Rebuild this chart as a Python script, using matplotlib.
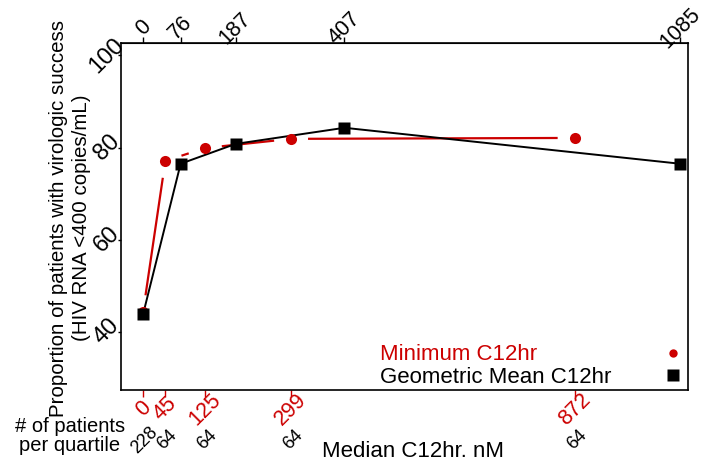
import numpy as np
import matplotlib
matplotlib.use("Agg")
import matplotlib.pyplot as plt

plt.rcParams['font.family'] = ['Liberation Sans', 'DejaVu Sans']

# Data
min_x = [0, 45, 125, 299, 872]
min_y = [44.3, 77.1, 79.9, 81.9, 82.1]
gm_x = [0, 76, 187, 407, 1085]
gm_y = [43.8, 76.5, 80.8, 84.3, 76.5]
n_patients = ["228", "64", "64", "64", "64"]
yticks = [40, 60, 80, 100]

RED = "#cc0000"
PX = 72 / 100  # points per pixel

fig = plt.figure(figsize=(7.04, 4.61), dpi=100)
ax = fig.add_axes([121/704, 1-390/461, (688-121)/704, (390-43)/461])
ax.set_xlim(-44.5, 1101)
ax.set_ylim(27.4, 102.7)

def type_b(ax, xs, ys, color, gap_px, lw):
    T = ax.transData
    inv = T.inverted()
    pts = T.transform(np.column_stack([xs, ys]))
    for p, q in zip(pts[:-1], pts[1:]):
        d = q - p
        L = np.hypot(*d)
        if L <= 2*gap_px:
            continue
        u = d / L
        a = inv.transform(p + u*gap_px)
        b = inv.transform(q - u*gap_px)
        ax.plot([a[0], b[0]], [a[1], b[1]], color=color, lw=lw, solid_capstyle='butt')

type_b(ax, min_x, min_y, RED, 17, 1.6)
ax.plot(min_x, min_y, 'o', color=RED, ms=8, mec='none', zorder=3)
type_b(ax, gm_x, gm_y, 'black', 5, 1.4)
ax.plot(gm_x, gm_y, 's', color='black', ms=8, mec='none', zorder=4)

for s in ax.spines.values():
    s.set_linewidth(1.2)

# left axis
ax.set_yticks(yticks)
ax.set_yticklabels([str(v) for v in yticks], rotation=45, fontsize=17,
                   ha='center', va='center')
ax.tick_params(axis='y', direction='out', length=3*PX, width=1, pad=11*PX)

# bottom axis (minimum)
ax.set_xticks(min_x)
ax.set_xticklabels([str(v) for v in min_x], rotation=45, fontsize=15.5,
                   color=RED, ha='center', va='center')
ax.tick_params(axis='x', direction='out', length=7*PX, width=1, color=RED, pad=12*PX)

# top axis (geometric mean)
top = ax.secondary_xaxis('top')
top.set_xticks(gm_x)
top.set_xticklabels([str(v) for v in gm_x], rotation=45, fontsize=15.5,
                    ha='center', va='center')
top.tick_params(axis='x', direction='out', length=6*PX, width=1, pad=9*PX)

fig.text(70/704, 1-218/461,
         "Proportion of patients with virologic success\n(HIV RNA <400 copies/mL)",
         rotation=90, ha='center', va='center', fontsize=14.8, linespacing=1.25,
         multialignment='center')

# patient counts
for xv, lab in zip(min_x, n_patients):
    ax.annotate(lab, xy=(xv, 0), xycoords=('data', 'axes fraction'),
                xytext=(2*PX, -50*PX), textcoords='offset points', rotation=45,
                ha='center', va='center', fontsize=13)
fig.text(70/704, 1-436/461, "# of patients\nper quartile", ha='center', va='center',
         fontsize=14.5, linespacing=1.0)
fig.text(413/704, 1-451/461, "Median C12hr. nM", ha='center', va='center', fontsize=16)

# legend
ax.text(380/704, 1-355/461, "Minimum C12hr", transform=fig.transFigure, color=RED,
        fontsize=16, ha='left', va='center')
ax.text(380/704, 1-377/461, "Geometric Mean C12hr", transform=fig.transFigure, color='black',
        fontsize=16, ha='left', va='center')
ax.plot([673/704], [1-353/461], 'o', color=RED, ms=6, mec='none', transform=fig.transFigure, clip_on=False)
ax.plot([673/704], [1-375/461], 's', color='black', ms=8, mec='none', transform=fig.transFigure, clip_on=False)

fig.savefig("out.png", dpi=100)
